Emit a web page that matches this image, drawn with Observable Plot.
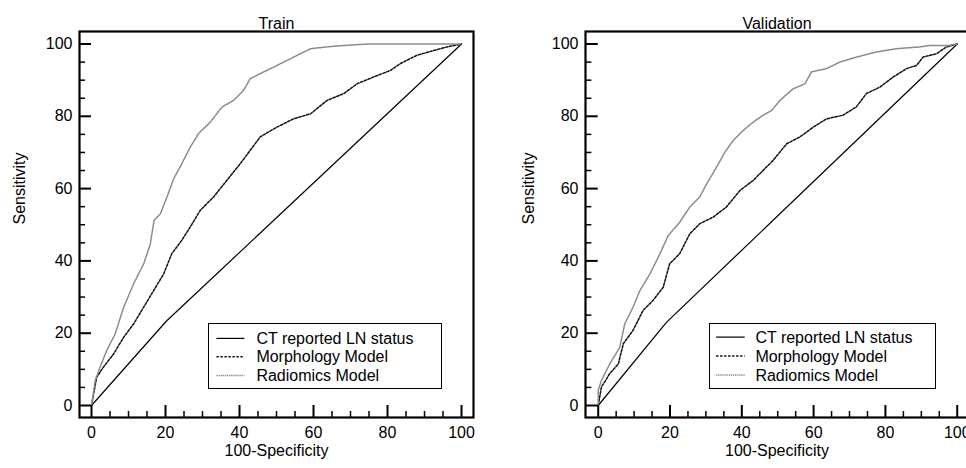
<!DOCTYPE html>
<html>
<head>
<meta charset="utf-8">
<script src="https://cdn.jsdelivr.net/npm/d3@7"></script>
<script src="https://cdn.jsdelivr.net/npm/@observablehq/plot@0.6"></script>
<style>
  html, body { margin: 0; padding: 0; background: #fff; }
  #wrap { position: relative; width: 966px; height: 468px; overflow: hidden; font-family: "Liberation Sans", Arial, sans-serif; }
  .panel { position: absolute; top: 0; }
  .legend { position: absolute; box-sizing: border-box; border: 1.6px solid #000; background: #fff; }
  .legend svg { display: block; }
</style>
</head>
<body>
<div id="wrap"></div>
<script>
// ---- data ----
const seriesNames = ["CT reported LN status", "Morphology Model", "Radiomics Model"];
const panelTitles = ["Train", "Validation"];
const xTickLabels = [0, 20, 40, 60, 80, 100];
const yTickLabels = [0, 20, 40, 60, 80, 100];
const minorTicks = [5, 10, 15, 25, 30, 35, 45, 50, 55, 65, 70, 75, 85, 90, 95];

const trainCT = [[0, 0], [20.2, 23.3], [100, 100]];
const trainMorphology = [
  [0, 0], [1.4, 7.8], [3.2, 10.6], [6.0, 14.3], [8.7, 18.9], [11.4, 22.6], [14.1, 27.2],
  [16.8, 31.8], [19.5, 36.4], [21.7, 42.0], [24.4, 45.7], [26.7, 49.4], [29.4, 54.0],
  [33.0, 57.7], [36.6, 62.3], [40.2, 66.9], [42.9, 70.6], [45.6, 74.3], [50.1, 77.0],
  [54.6, 79.3], [59.2, 80.7], [63.7, 84.4], [68.2, 86.3], [71.8, 89.0], [76.3, 90.9],
  [80.8, 92.7], [83.5, 94.6], [88.0, 96.9], [92.5, 98.2], [96.1, 99.2], [100, 100]
];
const trainRadiomics = [
  [0, 0], [1.0, 6.9], [2.3, 10.6], [4.1, 15.2], [6.4, 19.8], [8.7, 27.2], [11.4, 33.7],
  [14.1, 39.2], [15.9, 44.7], [16.9, 51.2], [18.6, 53.0], [20.4, 57.7], [22.2, 62.7],
  [24.4, 66.9], [26.7, 71.5], [28.9, 75.2], [32.1, 78.4], [35.3, 82.6], [38.4, 84.4],
  [41.1, 87.2], [42.9, 90.4], [45.6, 91.8], [49.2, 93.6], [53.7, 95.9], [56.4, 97.3],
  [59.2, 98.7], [65.5, 99.4], [74.5, 100], [100, 100]
];

const validCT = [[0, 0], [19.0, 23.0], [100, 100]];
const validMorphology = [
  [0, 0], [0.9, 5.1], [3.2, 8.8], [5.6, 11.5], [7.0, 17.1], [9.7, 20.8], [12.5, 26.3],
  [15.3, 29.1], [18.1, 32.7], [19.9, 39.2], [22.7, 42.0], [25.5, 47.5], [28.3, 50.3],
  [32.0, 52.1], [35.7, 54.9], [39.5, 59.5], [43.2, 62.3], [45.9, 65.0], [48.7, 67.8],
  [52.5, 72.4], [56.2, 74.3], [59.9, 77.0], [63.6, 79.3], [68.2, 80.3], [71.9, 82.6],
  [74.7, 86.3], [78.5, 88.1], [82.2, 90.9], [85.9, 93.2], [88.7, 94.1], [90.5, 96.4],
  [94.2, 97.3], [97.0, 99.2], [100, 100]
];
const validRadiomics = [
  [0, 0], [0, 4.2], [0.9, 6.9], [3.2, 11.5], [6.0, 16.1], [7.4, 22.6], [9.7, 27.2],
  [11.6, 31.8], [14.4, 36.4], [17.2, 42.0], [19.5, 47.0], [22.7, 50.7], [25.5, 54.9],
  [28.3, 57.7], [30.2, 61.3], [33.0, 66.0], [35.3, 70.1], [37.6, 73.3], [40.4, 76.1],
  [43.2, 78.4], [45.9, 80.3], [48.3, 81.6], [50.6, 84.4], [54.3, 87.6], [57.6, 89.0],
  [59.4, 92.3], [63.6, 93.2], [67.3, 95.0], [72.0, 96.4], [77.5, 97.8], [83.1, 98.7],
  [89.6, 99.2], [92.4, 99.6], [97.6, 99.6], [100, 100]
];

// ---- styles ----
const styles = [
  {stroke: "#000", strokeWidth: 1.2, strokeDasharray: null},
  {stroke: "#111", strokeWidth: 1.5, strokeDasharray: "2.4,1.6"},
  {stroke: "#8a8a8a", strokeWidth: 1.5, strokeDasharray: "1.3,0.8"}
];
const font = "'Liberation Sans', Arial, sans-serif";

function panel({title, series, width, marginLeft, marginRight, xDomain, yDomain, ylabelDx}) {
  const marks = [];
  series.forEach((s, i) => {
    const st = styles[i];
    marks.push(Plot.line(s, {x: d => d[0], y: d => d[1], stroke: st.stroke, strokeWidth: st.strokeWidth,
      strokeDasharray: st.strokeDasharray, strokeLinejoin: "round"}));
  });
  // inward ticks
  marks.push(Plot.ruleX(xTickLabels, {x: d => d, y1: yDomain[0], y2: 0, strokeWidth: 2}));
  marks.push(Plot.ruleX(minorTicks, {x: d => d, y1: yDomain[0], y2: yDomain[0] / 2, strokeWidth: 1.5}));
  marks.push(Plot.ruleY(yTickLabels, {y: d => d, x1: xDomain[0], x2: 0, strokeWidth: 2}));
  marks.push(Plot.ruleY(minorTicks, {y: d => d, x1: xDomain[0], x2: xDomain[0] / 2, strokeWidth: 1.5}));
  marks.push(Plot.frame({stroke: "#000", strokeWidth: 2.2}));
  // tick labels
  marks.push(Plot.text(xTickLabels, {x: d => d, y: yDomain[0], dy: 15, text: d => String(d), fontSize: 16, fill: "#000"}));
  marks.push(Plot.text(yTickLabels, {y: d => d, x: xDomain[0], dx: -7, textAnchor: "end", text: d => String(d), fontSize: 16, fill: "#000"}));
  // titles
  marks.push(Plot.text([title], {frameAnchor: "top", dy: -14, text: d => d, fontSize: 16, fill: "#000"}));
  marks.push(Plot.text(["100-Specificity"], {frameAnchor: "bottom", dy: 38, text: d => d, fontSize: 16, fill: "#000"}));
  marks.push(Plot.text(["Sensitivity"], {frameAnchor: "left", dx: ylabelDx, rotate: -90, text: d => d, fontSize: 16, fill: "#000"}));
  return Plot.plot({
    width, height: 468,
    marginLeft, marginRight, marginTop: 31, marginBottom: 51,
    x: {domain: xDomain, axis: null},
    y: {domain: yDomain, axis: null},
    style: {fontFamily: font, background: "#fff", overflow: "visible"},
    marks
  });
}

function legend(left, width, lineX0, lineX1, textX, rowYs) {
  const div = document.createElement("div");
  div.className = "legend";
  div.style.left = left + "px";
  div.style.top = "323px";
  div.style.width = width + "px";
  div.style.height = "66px";
  const ns = "http://www.w3.org/2000/svg";
  const svg = document.createElementNS(ns, "svg");
  svg.setAttribute("width", width - 3);
  svg.setAttribute("height", 63);
  seriesNames.forEach((name, i) => {
    const st = styles[i];
    const y = rowYs[i] - 324.6;
    const ln = document.createElementNS(ns, "line");
    ln.setAttribute("x1", lineX0 - left - 1.6); ln.setAttribute("x2", lineX1 - left - 1.6);
    ln.setAttribute("y1", y); ln.setAttribute("y2", y);
    ln.setAttribute("stroke", st.stroke); ln.setAttribute("stroke-width", st.strokeWidth);
    if (st.strokeDasharray) ln.setAttribute("stroke-dasharray", st.strokeDasharray);
    svg.appendChild(ln);
    const t = document.createElementNS(ns, "text");
    t.setAttribute("x", textX - left - 1.6); t.setAttribute("y", y);
    t.setAttribute("dominant-baseline", "central");
    t.setAttribute("font-size", 16); t.setAttribute("font-family", font); t.setAttribute("fill", "#000");
    t.textContent = name;
    svg.appendChild(t);
  });
  div.appendChild(svg);
  return div;
}

const wrap = document.getElementById("wrap");

const left = panel({
  title: panelTitles[0], series: [trainCT, trainMorphology, trainRadiomics],
  width: 483, marginLeft: 79, marginRight: 10,
  xDomain: [-3.243, 103.24], yDomain: [-3.32, 103.46], ylabelDx: -60
});
left.classList.add("panel"); left.style.left = "0px";
wrap.appendChild(left);

const right = panel({
  title: panelTitles[1], series: [validCT, validMorphology, validRadiomics],
  width: 486, marginLeft: 102, marginRight: 1,
  xDomain: [-3.54, 103.14], yDomain: [-3.32, 103.46], ylabelDx: -57
});
right.classList.add("panel"); right.style.left = "483px";
wrap.appendChild(right);

wrap.appendChild(legend(208, 234, 217, 245, 257, [339, 357.3, 376]));
wrap.appendChild(legend(709, 227, 716.7, 745.3, 756, [337.7, 356.7, 375.7]));
</script>
</body>
</html>
